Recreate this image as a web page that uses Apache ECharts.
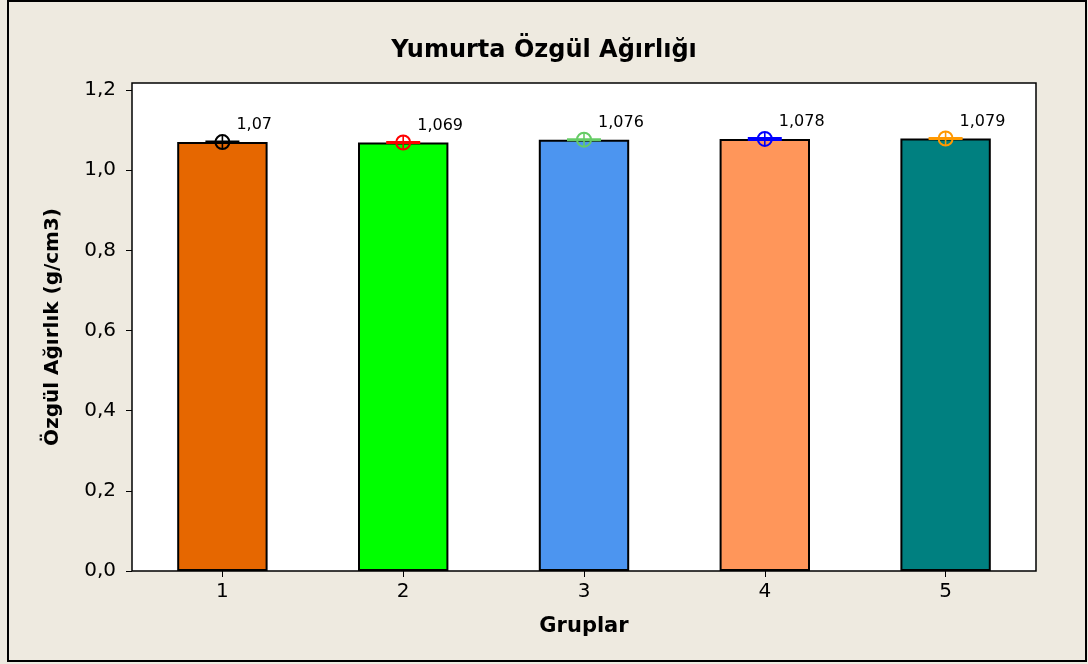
<!DOCTYPE html>
<html><head><meta charset="utf-8">
<script src="https://cdn.jsdelivr.net/npm/echarts@6/dist/echarts.min.js"></script>
<style>html,body{margin:0;padding:0;background:#EEEAE0;}#c{width:1088px;height:664px;}</style>
</head><body><div id="c"></div>
<script>
const categories = ['1', '2', '3', '4', '5'];
const means = [1.07, 1.069, 1.076, 1.078, 1.079];
const meanLabels = ['1,07', '1,069', '1,076', '1,078', '1,079'];
const barColors = ['#E66700', '#00FF00', '#4C95F0', '#FF965A', '#008080'];
const markerColors = ['#000000', '#FF0000', '#66CC66', '#0000FF', '#FF9900'];
const yTickValues = [0, 0.2, 0.4, 0.6, 0.8, 1.0, 1.2];

const FONT = 'DejaVu Sans';
const chart = echarts.init(document.getElementById('c'), null, {renderer: 'canvas'});
chart.setOption({
  backgroundColor: '#EEEAE0',
  animation: false,
  title: {
    text: 'Yumurta Özgül Ağırlığı',
    left: 'center', top: 34,
    textStyle: {fontFamily: FONT, fontWeight: 'bold', fontSize: 24, color: '#000'}
  },
  graphic: [{
    type: 'rect', shape: {x: 8, y: 1, width: 1078, height: 660},
    style: {fill: 'none', stroke: '#000', lineWidth: 2}, silent: true
  }],
  grid: {left: 132, top: 83, right: 52, bottom: 93, show: true,
         backgroundColor: '#FFFFFF', borderColor: '#000', borderWidth: 1.5},
  xAxis: {
    type: 'category', data: categories,
    name: 'Gruplar', nameLocation: 'middle', nameGap: 45,
    nameTextStyle: {fontFamily: FONT, fontWeight: 'bold', fontSize: 21, color: '#000'},
    axisLine: {show: false},
    axisTick: {show: true, alignWithLabel: true, length: 6, lineStyle: {color: '#000'}},
    axisLabel: {fontFamily: FONT, fontSize: 20, color: '#000', margin: 11}
  },
  yAxis: {
    type: 'value', min: 0, max: 1.2175,
    name: 'Özgül Ağırlık (g/cm3)', nameLocation: 'middle', nameGap: 69, nameRotate: 90,
    nameTextStyle: {fontFamily: FONT, fontWeight: 'bold', fontSize: 20, color: '#000'},
    splitLine: {show: false},
    axisLine: {show: false},
    axisTick: {show: true, length: 6, lineStyle: {color: '#000'}, customValues: yTickValues},
    axisLabel: {fontFamily: FONT, fontSize: 20, color: '#000', margin: 16,
      customValues: yTickValues,
      formatter: v => v.toFixed(1).replace('.', ',')}
  },
  series: [{
    type: 'bar', barWidth: '50%',
    data: means.map((v, i) => ({value: v, itemStyle: {color: barColors[i]}})),
    itemStyle: {borderColor: '#000', borderWidth: 2}
  }, {
    type: 'custom',
    data: means.map((v, i) => [i, v]),
    z: 10,
    renderItem: function (params, api) {
      const i = api.value(0);
      const p = api.coord([i, api.value(1)]);
      const c = markerColors[i];
      const r = 7;
      return {
        type: 'group',
        children: [
          {type: 'line', shape: {x1: p[0] - 17, y1: p[1], x2: p[0] + 17, y2: p[1]},
           style: {stroke: c, lineWidth: i === 3 ? 4 : 3}},
          {type: 'circle', shape: {cx: p[0], cy: p[1], r: r},
           style: {fill: 'none', stroke: c, lineWidth: 2}},
          {type: 'line', shape: {x1: p[0], y1: p[1] - r, x2: p[0], y2: p[1] + r},
           style: {stroke: c, lineWidth: 1.6}},
          {type: 'line', shape: {x1: p[0] - r, y1: p[1], x2: p[0] + r, y2: p[1]},
           style: {stroke: c, lineWidth: 1.6}},
          {type: 'text', x: p[0] + 14, y: p[1] - 17,
           style: {text: meanLabels[i], fill: '#000', font: '16px "DejaVu Sans"',
                   textAlign: 'left', textVerticalAlign: 'middle'}}
        ]
      };
    }
  }]
});
</script></body></html>
